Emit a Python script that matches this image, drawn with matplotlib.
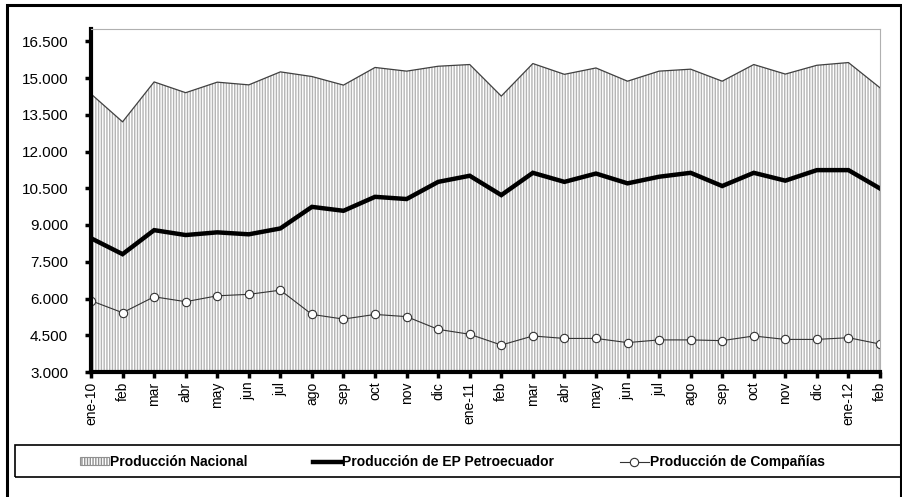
import matplotlib.pyplot as plt
from matplotlib.patches import Rectangle, Patch
from matplotlib.lines import Line2D

plt.rcParams['font.family'] = ['Liberation Sans', 'DejaVu Sans']
plt.rcParams['hatch.linewidth'] = 1.0

meses = ["ene-10", "feb", "mar", "abr", "may", "jun", "jul", "ago", "sep", "oct",
         "nov", "dic", "ene-11", "feb", "mar", "abr", "may", "jun", "jul", "ago",
         "sep", "oct", "nov", "dic", "ene-12", "feb"]

# produccion nacional (area)
nacional = [14350, 13210, 14840, 14400, 14830, 14720, 15250, 15060, 14710, 15430,
            15280, 15480, 15550, 14260, 15590, 15150, 15410, 14870, 15280, 15360,
            14870, 15550, 15160, 15520, 15630, 14600]
# EP Petroecuador
petro = [8460, 7810, 8790, 8590, 8700, 8620, 8860, 9740, 9580, 10150,
         10060, 10760, 11010, 10220, 11130, 10760, 11100, 10700, 10970, 11130,
         10590, 11130, 10810, 11240, 11240, 10490]
# companias
companias = [5910, 5420, 6070, 5870, 6110, 6170, 6340, 5350, 5160, 5350,
             5260, 4740, 4540, 4100, 4470, 4370, 4370, 4200, 4310, 4310,
             4280, 4470, 4330, 4330, 4400, 4140]

y_ticks = [3000, 4500, 6000, 7500, 9000, 10500, 12000, 13500, 15000, 16500]
y_labels = ["3.000", "4.500", "6.000", "7.500", "9.000", "10.500", "12.000",
            "13.500", "15.000", "16.500"]

fig = plt.figure(figsize=(9.03, 4.97), dpi=100)
ax = fig.add_axes([91/903, 1 - 372/497, (880 - 91)/903, (372 - 29)/497])

x = list(range(len(meses)))

# area con rayado vertical
ax.fill_between(x, 3000, nacional, facecolor="white", edgecolor="#b4b4b4",
                hatch="||||||", linewidth=0)
ax.plot(x, nacional, color="#404040", lw=0.9)
ax.plot(x, petro, color="black", lw=3.2, solid_joinstyle="miter")
ax.plot(x, companias, color="#333333", lw=0.8, marker="o", ms=6,
        mfc="white", mec="#333333", mew=0.8)

ax.set_xlim(0, 25)
ax.set_ylim(3000, 17000)
ax.set_yticks(y_ticks)
ax.set_yticklabels(y_labels, fontsize=11)
ax.set_xticks(x)
ax.set_xticklabels(meses, rotation=90, fontsize=10,
                   family=["Liberation Sans Narrow", "Liberation Sans"])

for s in ["top", "right"]:
    ax.spines[s].set_color("#b0b0b0")
    ax.spines[s].set_linewidth(0.8)
for s in ["left", "bottom"]:
    ax.spines[s].set_color("black")
    ax.spines[s].set_linewidth(3)
ax.tick_params(axis="y", direction="out", length=4, width=2.5, pad=12.5)
ax.tick_params(axis="x", direction="out", length=4, width=2.5, pad=3)

# marco exterior
fig.patches.append(Rectangle((7/903, -0.01), (901 - 7)/903, 1 - 5/497 + 0.01,
                             transform=fig.transFigure, fill=False,
                             edgecolor="black", lw=2.2))
# caja leyenda
fig.patches.append(Rectangle((15/903, 1 - 477/497), (904 - 15)/903, (477 - 445)/497,
                             transform=fig.transFigure, fill=False,
                             edgecolor="black", lw=1.2))

handles = [
    Patch(facecolor="white", edgecolor="#909090", hatch="||||||", lw=0.8),
    Line2D([], [], color="black", lw=3.2),
    Line2D([], [], color="#333333", lw=0.8, marker="o", ms=6, mfc="white",
           mec="#333333", mew=0.8),
]
etiquetas = ["Producción Nacional", "Producción de EP Petroecuador",
             "Producción de Compañías"]
fig.legend(handles, etiquetas, loc="center left",
           bbox_to_anchor=(80/903, 1 - 462/497), ncol=3, frameon=False,
           prop={"size": 10, "weight": "bold"}, handlelength=2.1,
           handletextpad=0.05, columnspacing=4.7, handleheight=0.45,
           borderpad=0, borderaxespad=0)

fig.savefig("out.png", dpi=100)
